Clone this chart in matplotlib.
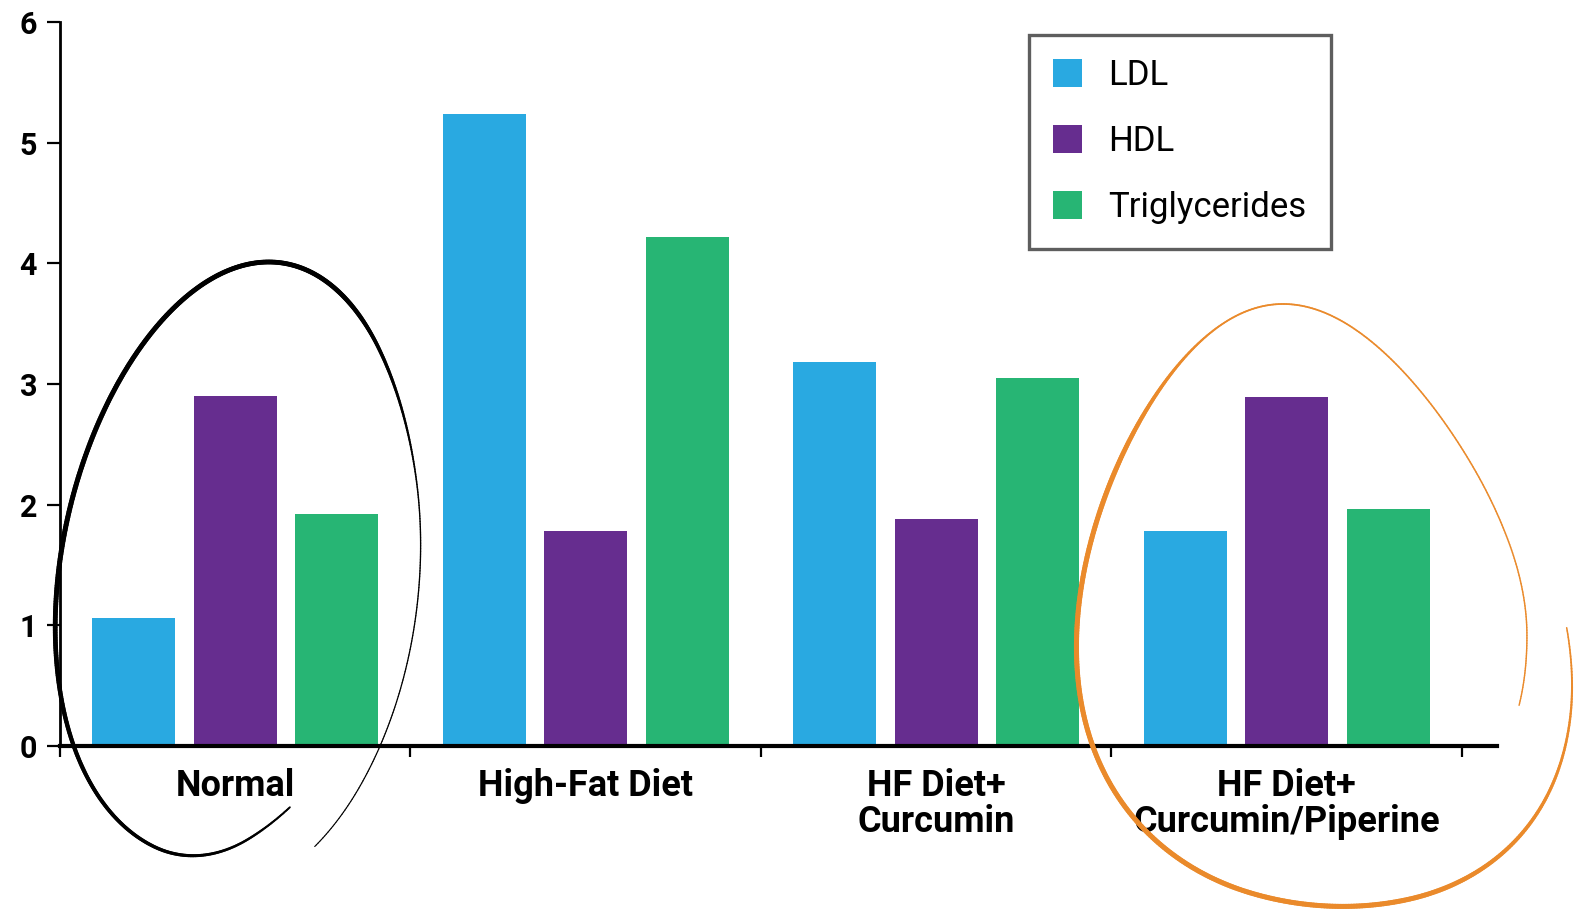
import numpy as np
import matplotlib.pyplot as plt
from matplotlib.collections import LineCollection
from matplotlib.transforms import Affine2D

plt.rcParams['font.family'] = ['Roboto', 'DejaVu Sans']

# Lipid levels per diet group
groups = ['Normal', 'High-Fat Diet', 'HF Diet+\nCurcumin', 'HF Diet+\nCurcumin/Piperine']
ldl = [1.06, 5.24, 3.18, 1.78]
hdl = [2.90, 1.78, 1.88, 2.89]
trig = [1.92, 4.22, 3.05, 1.96]
series = ['LDL', 'HDL', 'Triglycerides']
colors = ['#29a9e1', '#662d8f', '#27b574']

W, H = 1579, 910
fig = plt.figure(figsize=(W / 100, H / 100), dpi=100)
fig.patch.set_facecolor('white')
ax = fig.add_axes([60 / W, (H - 746) / H, 1437 / W, (746 - 22) / H])

centers = np.arange(len(groups)) + 0.5
step = 0.29
width = 0.237
for i, (vals, lab, c) in enumerate(zip([ldl, hdl, trig], series, colors)):
    ax.bar(centers + (i - 1) * step, vals, width, color=c, label=lab, zorder=2)

ax.set_xlim(0, 4.1)
ax.set_ylim(0, 6)
ax.spines['top'].set_visible(False)
ax.spines['right'].set_visible(False)
ax.spines['left'].set_linewidth(2.0)
ax.spines['bottom'].set_linewidth(3.0)
ax.spines['bottom'].set_zorder(3)

ax.set_yticks(range(7))
ax.tick_params(axis='y', length=9.5, width=1.6, pad=7, labelsize=22)
for t in ax.get_yticklabels():
    t.set_fontweight('bold')

ax.set_xticks(range(5))
ax.set_xticklabels([])
ax.tick_params(axis='x', which='major', length=8, width=1.6)
ax.set_xticks(centers, minor=True)
ax.set_xticklabels(groups, minor=True, fontsize=26, fontweight='bold',
                   linespacing=1.0)
ax.tick_params(axis='x', which='minor', length=0, pad=16)

leg = ax.legend(loc='upper left', bbox_to_anchor=(1029 / W, 1 - 35 / H),
                bbox_transform=fig.transFigure, fontsize=25, frameon=True,
                fancybox=False, edgecolor='#363636', handlelength=0.84,
                handleheight=0.86, handletextpad=0.75, labelspacing=0.95,
                borderpad=0.7, borderaxespad=0)
leg.get_frame().set_linewidth(2.4)
leg.set_zorder(5)

# hand-drawn loops around the first and last groups (pixel space, y down)
px = Affine2D().scale(1, -1).translate(0, H)


def smooth(v, n=61):
    k = np.ones(n) / n
    pad = np.concatenate([np.full(n // 2, v[0]), v, np.full(n // 2, v[-1])])
    return np.convolve(pad, k, mode='valid')


def loop(cx, cy, a, b, th0, th1, shear, egg, s_deg, s_val, lw_deg, lw_val, color):
    deg = np.linspace(th0, th1, 700)
    th = np.radians(deg)
    s = smooth(np.interp(deg, s_deg, s_val))
    y = cy + b * s * np.sin(th)
    x = cx + a * s * np.cos(th) * (1 + egg * np.sin(th)) - shear * (y - cy)
    pts = np.column_stack([x, y]).reshape(-1, 1, 2)
    segs = np.concatenate([pts[:-1], pts[1:]], axis=1)
    lws = smooth(np.interp(deg[:-1], lw_deg, lw_val), 31)
    lc = LineCollection(segs, colors=color, linewidths=lws,
                        transform=px, capstyle='round')
    fig.add_artist(lc)


loop(236, 560, 176, 298, 62, 418, 0.11, 0.05,
     [62, 90, 200, 330, 418], [0.93, 1.0, 1.0, 1.0, 1.14],
     [62, 100, 180, 300, 345, 418], [1.3, 2.4, 3.6, 3.4, 1.0, 0.8], 'black')

loop(1305, 604, 226, 300, 22, -356, -0.073, 0.25,
     [-356, -270, -10, 5, 22], [1.14, 1.0, 1.0, 0.97, 0.88],
     [-356, -320, -290, -150, -115, 22], [1.0, 2.5, 3.6, 3.6, 1.3, 1.0],
     '#ea8a2b')

fig.savefig('out.png', dpi=100, facecolor='white')
